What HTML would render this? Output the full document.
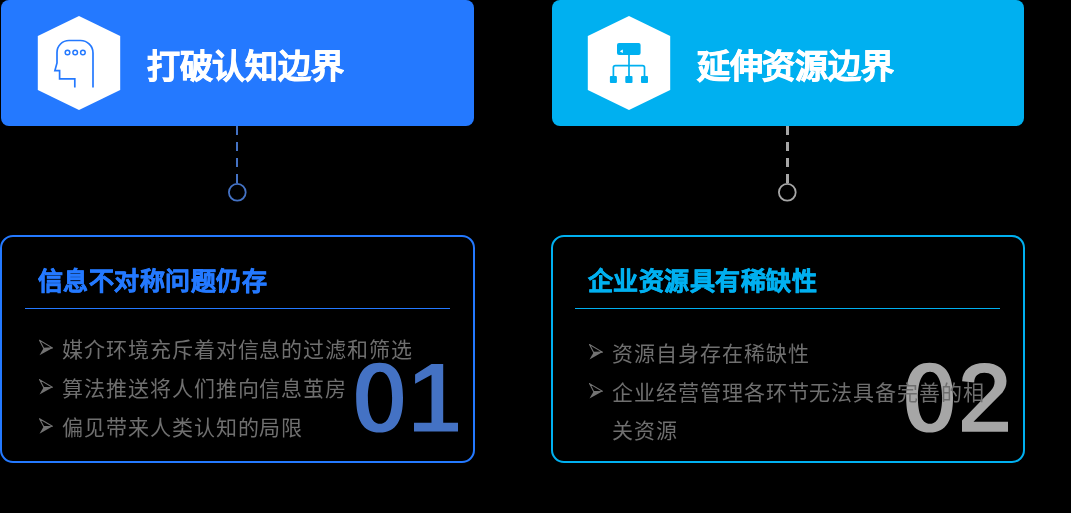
<!DOCTYPE html>
<html lang="zh-CN">
<head>
<meta charset="utf-8">
<style>
html,body{margin:0;padding:0;background:#000;}
body{width:1071px;height:513px;position:relative;overflow:hidden;font-family:"Liberation Sans",sans-serif;}
.hdr{position:absolute;top:0;height:126px;border-radius:8px;}
.t{position:absolute;white-space:nowrap;line-height:1;will-change:transform;}
.title{font-size:33px;font-weight:bold;letter-spacing:-0.3px;color:#fff;-webkit-text-stroke:0.8px #fff;}
.sub{font-size:25px;font-weight:bold;letter-spacing:0.45px;-webkit-text-stroke:0.6px currentColor;}
.li{font-size:21px;letter-spacing:0.94px;color:#6f6f6f;}
.box{position:absolute;top:235px;height:228px;border:2px solid;box-sizing:border-box;border-radius:13px;}
.sep{position:absolute;top:308px;height:1px;}
svg{position:absolute;left:0;top:0;}
</style>
</head>
<body>
<div class="hdr" style="left:1px;width:473px;background:#2479ff;"></div>
<div class="hdr" style="left:552px;width:472px;background:#00b0f0;"></div>
<div class="box" style="left:0;width:475px;border-color:#2479ff;"></div>
<div class="box" style="left:551px;width:474px;border-color:#00b0f0;"></div>
<div class="sep" style="left:25px;width:425px;background:#2479ff;"></div>
<div class="sep" style="left:575px;width:425px;background:#00b0f0;"></div>

<svg width="1071" height="513" viewBox="0 0 1071 513">
  <!-- hexagons -->
  <polygon points="79,16 120.2,36 120.2,90 79,110 37.8,90 37.8,36" fill="#fff"/>
  <polygon points="629,16 670.2,36 670.2,90 629,110 587.8,90 587.8,36" fill="#fff"/>
  <!-- head icon -->
  <g fill="none" stroke="#2479ff" stroke-width="1.7">
    <path d="M93,87.6 V53 A12.5,12.5 0 0 0 80.5,40.5 H69 A12,12 0 0 0 57,52.5 V63 L54.9,70.6 H59.6 V78.8 H74.8 V87.6"/>
    <circle cx="67.5" cy="52.5" r="2.3" stroke-width="1.5"/>
    <circle cx="75.2" cy="52.5" r="2.3" stroke-width="1.5"/>
    <circle cx="82.9" cy="52.5" r="2.3" stroke-width="1.5"/>
  </g>
  <!-- hierarchy icon -->
  <g fill="#00b0f0">
    <rect x="617" y="42.9" width="23.6" height="12.2" rx="2"/>
    <rect x="609.9" y="75.9" width="7" height="7" rx="1"/>
    <rect x="625.3" y="75.9" width="7.2" height="7" rx="1"/>
    <rect x="641" y="75.9" width="7" height="7" rx="1"/>
  </g>
  <polygon points="619.8,51.3 622.8,49.6 622.8,53" fill="#fff"/>
  <g fill="none" stroke="#00b0f0" stroke-width="1.7">
    <path d="M629,55 V76"/>
    <path d="M613.4,76 V67.6 Q613.4,65.6 615.4,65.6 H642.5 Q644.5,65.6 644.5,67.6 V76"/>
  </g>
  <!-- connectors -->
  <line x1="237" y1="126" x2="237" y2="183" stroke="#4472c4" stroke-width="2" stroke-dasharray="9 7"/>
  <circle cx="237.3" cy="192.3" r="8.4" fill="none" stroke="#4472c4" stroke-width="1.8"/>
  <line x1="787.5" y1="126" x2="787.5" y2="183" stroke="#a6a6a6" stroke-width="3" stroke-dasharray="9 7"/>
  <circle cx="787.3" cy="192.3" r="8.4" fill="none" stroke="#a6a6a6" stroke-width="1.8"/>
  <!-- big digits -->
  <path fill="#4472c4" fill-rule="evenodd" d="M379.6,362.7 C396.45,362.7 403,375.63 403,397.65 C403,419.67 396.45,432.6 379.6,432.6 C362.75,432.6 356.2,419.67 356.2,397.65 C356.2,375.63 362.75,362.7 379.6,362.7 Z M380,371.7 C388.95,371.7 392.1,384.2 392.1,397.75 C392.1,411.3 388.95,423.8 380,423.8 C371.05,423.8 367.9,411.3 367.9,397.75 C367.9,384.2 371.05,371.7 380,371.7 Z"/>
  <polygon fill="#4472c4" points="431.5,363.9 443.2,363.9 443.2,422.7 458,422.7 458,431.6 414,431.6 414,422.7 431.5,422.7 431.5,374.8 415.1,383.7 415.1,374.4"/>
  <path fill="#a6a6a6" fill-rule="evenodd" d="M929.6,362.7 C946.45,362.7 953,375.63 953,397.65 C953,419.67 946.45,432.6 929.6,432.6 C912.75,432.6 906.2,419.67 906.2,397.65 C906.2,375.63 912.75,362.7 929.6,362.7 Z M930,371.7 C938.95,371.7 942.1,384.2 942.1,397.75 C942.1,411.3 938.95,423.8 930,423.8 C921.05,423.8 917.9,411.3 917.9,397.75 C917.9,384.2 921.05,371.7 930,371.7 Z"/>
  <path fill="#a6a6a6" d="M962.1,381.2 C962.5,370 971,363 984.5,363 C998.5,363 1006.5,370.5 1006.5,381 C1006.5,385.5 1005,389 1002.5,392.5 L973.5,421.8 H1008 V431.7 H962 V420.5 L990.5,391 C993.3,388 994.6,385 994.6,381.5 C994.6,375.5 990.5,372.7 984.3,372.7 C978,372.7 974.4,376 974.2,382.5 Z"/>
  <!-- bullet arrows -->
  <g id="arr">
    <path d="M39.5,340.3 L52.4,347.9 L43.7,348.2 Z" fill="none" stroke="#737373" stroke-width="1.1" stroke-linejoin="round"/>
    <path d="M43.7,348 L52.6,347.9 L39.5,355.3 Z" fill="#737373"/>
  </g>
  <use href="#arr" transform="translate(0,39.3)"/>
  <use href="#arr" transform="translate(0,78.4)"/>
  <use href="#arr" transform="translate(550,4.2)"/>
  <use href="#arr" transform="translate(550,43.3)"/>
</svg>

<div class="t title" style="left:147px;top:50px;">打破认知边界</div>
<div class="t title" style="left:697px;top:50px;">延伸资源边界</div>
<div class="t sub" style="left:38px;top:269px;color:#2479ff;">信息不对称问题仍存</div>
<div class="t sub" style="left:588px;top:269px;color:#00b0f0;">企业资源具有稀缺性</div>
<div class="t li" style="left:62px;top:338.5px;">媒介环境充斥着对信息的过滤和筛选</div>
<div class="t li" style="left:62px;top:377.5px;">算法推送将人们推向信息茧房</div>
<div class="t li" style="left:62px;top:416.5px;">偏见带来人类认知的局限</div>
<div class="t li" style="left:612px;top:342.5px;">资源自身存在稀缺性</div>
<div class="t li" style="left:612px;top:381.5px;">企业经营管理各环节无法具备完善的相</div>
<div class="t li" style="left:612px;top:419.5px;">关资源</div>
</body>
</html>
